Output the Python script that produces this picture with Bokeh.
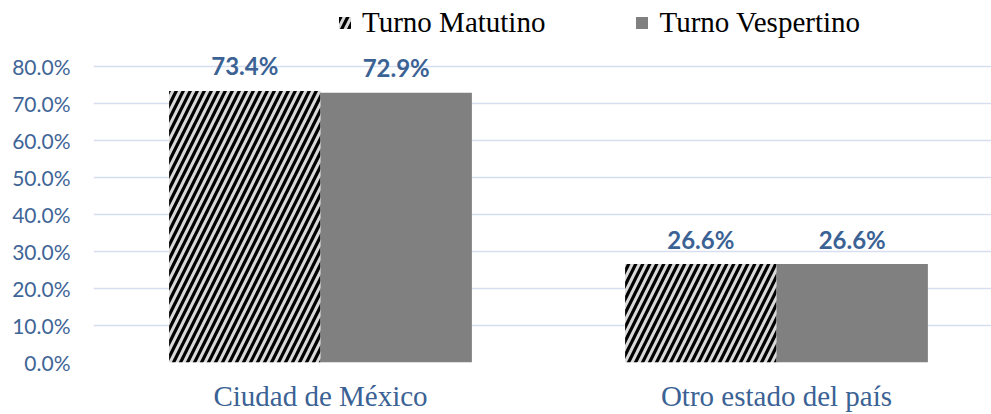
from bokeh.plotting import figure
from bokeh.models import (ColumnDataSource, FixedTicker, Range1d, Legend, LegendItem)
from bokeh.embed import file_html
from bokeh.resources import INLINE
from bokeh.core.properties import value

categories = ["Ciudad de México", "Otro estado del país"]
series_names = ["Turno Matutino", "Turno Vespertino"]
matutino = [73.4, 26.6]
vespertino = [72.9, 26.6]
y_ticks = [0, 10, 20, 30, 40, 50, 60, 70, 80]

LABEL_BLUE = "#3b6294"
TICK_BLUE = "#3f6597"

centers = [0.5 + i for i in range(len(categories))]
bw = 0.332
x0 = 0.5 - 227 / 456

p = figure(width=991, height=414, output_backend="svg", toolbar_location=None,
           x_range=Range1d(x0, x0 + 898 / 456), y_range=Range1d(0, 366 / 3.74),
           min_border_left=93, min_border_right=0, min_border_top=0, min_border_bottom=48)
p.outline_line_color = None
p.background_fill_color = "white"

src_m = ColumnDataSource(dict(x=[c - bw / 2 for c in centers], top=matutino,
                              lab=[f"{v:.1f}%" for v in matutino]))
src_v = ColumnDataSource(dict(x=[c + bw / 2 for c in centers], top=vespertino,
                              lab=[f"{v:.1f}%" for v in vespertino]))

r_m = p.vbar(x="x", top="top", width=bw, source=src_m, fill_color="#d9d9d9",
             line_color=None, hatch_pattern="right_diagonal_line", hatch_color="black",
             hatch_scale=14, hatch_weight=3.2)
r_v = p.vbar(x="x", top="top", width=bw, source=src_v, fill_color="#808080",
             line_color=None)

for s in (src_m, src_v):
    p.text(x="x", y="top", text="lab", source=s, text_align="center",
           text_baseline="alphabetic", y_offset=-25, text_font=value("Lato"),
           text_font_style="bold", text_font_size="24px", text_color=LABEL_BLUE)

p.yaxis.ticker = FixedTicker(ticks=y_ticks)
p.yaxis.major_label_overrides = {t: f"{t:.1f}%" for t in y_ticks}
p.yaxis.axis_line_color = None
p.yaxis.major_tick_line_color = None
p.yaxis.minor_tick_line_color = None
p.yaxis.major_tick_out = 0
p.yaxis.major_label_standoff = 23
p.yaxis.major_label_text_font = "Lato"
p.yaxis.major_label_text_font_size = "21px"
p.yaxis.major_label_text_color = TICK_BLUE

p.xaxis.ticker = FixedTicker(ticks=centers)
p.xaxis.major_label_overrides = {c: n for c, n in zip(centers, categories)}
p.xaxis.axis_line_color = None
p.xaxis.major_tick_line_color = None
p.xaxis.minor_tick_line_color = None
p.xaxis.major_tick_out = 0
p.xaxis.major_label_standoff = 17
p.xaxis.major_label_text_font = "Liberation Serif"
p.xaxis.major_label_text_font_size = "29px"
p.xaxis.major_label_text_color = LABEL_BLUE

p.xgrid.grid_line_color = None
p.ygrid.grid_line_color = "#d5dff0"
p.ygrid.grid_line_width = 1.5

legend = Legend(items=[LegendItem(label=series_names[0], renderers=[r_m]),
                       LegendItem(label=series_names[1], renderers=[r_v])],
                location=(244, 323), orientation="horizontal", glyph_width=15,
                glyph_height=15, label_standoff=10, spacing=89, padding=0, margin=0,
                border_line_color=None, background_fill_alpha=0,
                label_text_font="Liberation Serif", label_text_font_size="29px",
                label_text_color="black")
p.add_layout(legend, "center")

open("out.html", "w").write(file_html(p, INLINE))
